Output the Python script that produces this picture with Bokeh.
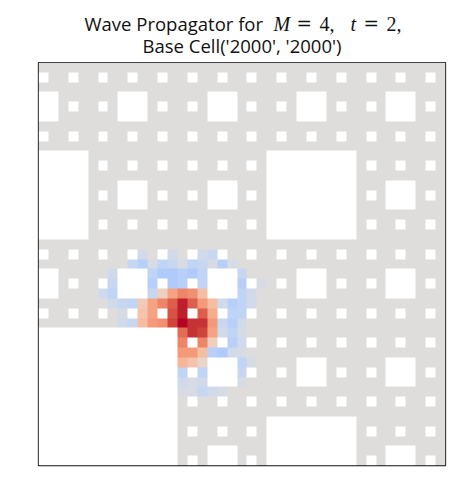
import numpy as np
from bokeh.plotting import figure
from bokeh.layouts import column
from bokeh.models import LinearColorMapper, Range1d
from bokeh.core.properties import value
from bokeh.embed import file_html
from bokeh.resources import INLINE

# ---------------- data ----------------
M = 4                      # carpet level -> 3**M cells per side
t_step = 2
base_cell = ("2000", "2000")
view_row_range = (0, 41)   # carpet rows shown (top to bottom)
view_col_range = (40, 81)  # carpet cols shown (left to right)

# wave propagator values (view rows 19.., view cols 5..23)
wave_row_start = 19
wave_col_start = 5
wave_r19 = [0, 0, 0, 0, 0, -0.1, 0, 0, -0.1, 0, 0, -0.1, -0.15, 0, 0, 0, 0, 0, 0]
wave_r20 = [0, 0, 0, 0, -0.15, -0.25, -0.05, -0.2, -0.15, -0.05, -0.2, -0.15, -0.05, -0.25, -0.05, 0, 0, 0, 0]
wave_r21 = [0, 0, -0.1, 0, 0, 0, -0.2, -0.3, -0.3, -0.25, -0.3, -0.2, 0, 0, 0, -0.15, 0, 0, 0]
wave_r22 = [0, -0.1, -0.15, 0, 0, 0, -0.25, 0, -0.3, -0.25, 0, -0.2, 0, 0, 0, -0.25, 0, -0.05, 0]
wave_r23 = [0, -0.1, -0.2, 0, 0, 0, -0.15, 0.15, 0.45, 0.6, 0.55, 0.3, 0, 0, 0, -0.2, -0.1, 0, 0]
wave_r24 = [0, 0, -0.1, -0.15, -0.2, 0.2, 0.45, 0.6, 0.75, 0.95, 0.75, 0.5, 0.3, -0.1, -0.25, -0.2, -0.1, 0, 0]
wave_r25 = [0, 0, 0, -0.05, 0, 0.25, 0.45, 0, 0.8, 0.95, 0, 0.75, 0.4, 0, -0.2, -0.2, 0, 0, 0]
wave_r26 = [0, 0, 0, -0.1, -0.15, 0.3, 0.5, 0.55, 0.85, 1.0, 0.9, 0.9, 0.5, -0.15, -0.25, -0.1, 0, 0, 0]
wave_r27 = [0, 0, 0, 0, 0, 0, 0, 0, 0, 0.7, 0.9, 0.85, 0.45, -0.1, -0.2, -0.05, 0, 0, 0]
wave_r28 = [0, 0, 0, 0, 0, 0, 0, 0, 0, 0.6, 0, 0.6, 0.15, -0.25, -0.25, -0.1, 0, 0, 0]
wave_r29 = [0, 0, 0, 0, 0, 0, 0, 0, 0, 0.5, 0.5, 0.3, -0.25, -0.3, -0.1, -0.05, 0, 0, 0]
wave_r30 = [0, 0, 0, 0, 0, 0, 0, 0, 0, 0.35, 0.25, 0.1, 0, 0, 0, -0.2, -0.05, 0, 0]
wave_r31 = [0, 0, 0, 0, 0, 0, 0, 0, 0, -0.2, 0, -0.2, 0, 0, 0, -0.15, 0, 0, 0]
wave_r32 = [0, 0, 0, 0, 0, 0, 0, 0, 0, -0.1, -0.05, -0.1, 0, 0, 0, -0.05, 0, 0, 0]
wave_r33 = [0, 0, 0, 0, 0, 0, 0, 0, 0, -0.05, -0.05, -0.15, -0.1, -0.05, 0, 0, 0, 0, 0]
wave_rows = [wave_r19, wave_r20, wave_r21, wave_r22, wave_r23, wave_r24, wave_r25,
             wave_r26, wave_r27, wave_r28, wave_r29, wave_r30, wave_r31, wave_r32, wave_r33]

# title pieces: line 1 mixes text and math
title_line1 = ["Wave Propagator for", "M", "=", "4,", "t", "=", "2,"]
title_line1_kind = ["text", "var", "rel", "num", "var", "rel", "num"]
title_line2 = "Base Cell('%s', '%s')" % base_cell

# coolwarm colormap anchor table (Moreland)
coolwarm_table = [
    (59, 76, 192), (68, 90, 204), (77, 104, 215), (87, 117, 225), (98, 130, 234),
    (108, 142, 241), (119, 154, 247), (130, 165, 251), (141, 176, 254), (152, 185, 255),
    (163, 194, 255), (174, 201, 253), (184, 208, 249), (194, 213, 244), (204, 217, 238),
    (213, 219, 230), (221, 221, 221), (229, 216, 209), (236, 211, 197), (241, 204, 185),
    (245, 196, 173), (247, 187, 160), (247, 177, 148), (247, 166, 135), (244, 154, 123),
    (241, 141, 111), (236, 127, 99), (229, 112, 88), (222, 96, 77), (213, 80, 66),
    (203, 62, 56), (192, 40, 47), (180, 4, 38)]


def make_palette(table, n=256):
    arr = np.array(table, dtype=float)
    xs = np.linspace(0, 1, len(arr))
    q = np.linspace(0, 1, n)
    cols = []
    for v in q:
        rgb = [int(round(np.interp(v, xs, arr[:, k]))) for k in range(3)]
        cols.append("#%02x%02x%02x" % tuple(rgb))
    return cols


def in_carpet(R, C, level):
    for k in range(level):
        if (R // 3 ** k) % 3 == 1 and (C // 3 ** k) % 3 == 1:
            return False
    return True


nr = view_row_range[1] - view_row_range[0]
nc = view_col_range[1] - view_col_range[0]
grid = np.zeros((nr, nc))
for r in range(nr):
    for c in range(nc):
        if not in_carpet(view_row_range[0] + r, view_col_range[0] + c, M):
            grid[r, c] = np.nan
for i, row in enumerate(wave_rows):
    for j, v in enumerate(row):
        r = wave_row_start + i
        c = wave_col_start + j
        if not np.isnan(grid[r, c]):
            grid[r, c] = v

# ---------------- layout ----------------
LEFT = 38
RIGHT = 18
FRAME_W = 407
FRAME_H = 403
TITLE_H = 62

# title strip (its own small figure so the text sits outside the map frame);
# its x range is in page pixels
tp = figure(frame_width=FRAME_W, frame_height=TITLE_H,
            x_range=Range1d(LEFT, LEFT + FRAME_W), y_range=Range1d(TITLE_H, 0),
            toolbar_location=None, output_backend="svg", title=None,
            min_border_left=LEFT, min_border_right=RIGHT, min_border_top=0, min_border_bottom=0)
tp.axis.visible = False
tp.grid.visible = False
tp.outline_line_color = None
tp.background_fill_color = "white"
tp.border_fill_color = "white"

styles = {
    "text": ("Open Sans", "normal", "18.5px"),
    "var": ("Liberation Serif", "italic", "20px"),
    "rel": ("DejaVu Serif", "normal", "18.5px"),
    "num": ("Liberation Serif", "normal", "20px"),
}
piece_x = [84, 273, 296, 319, 350, 363, 386]
for txt, kind, px in zip(title_line1, title_line1_kind, piece_x):
    font, style, size = styles[kind]
    tp.text(x=[px], y=[23], text=[txt], text_font=value(font), text_font_style=style,
            text_font_size=size, text_color="#111111", text_align="left",
            text_baseline="middle")
tp.text(x=[LEFT + FRAME_W / 2], y=[45], text=[title_line2],
        text_font=value("Open Sans"), text_font_size="18.5px", text_color="#111111",
        text_align="center", text_baseline="middle")

mapper = LinearColorMapper(palette=make_palette(coolwarm_table), low=-1, high=1, nan_color="white")

p = figure(frame_width=FRAME_W, frame_height=FRAME_H,
           x_range=Range1d(view_col_range[0], view_col_range[1]),
           y_range=Range1d(0, nr),
           toolbar_location=None, output_backend="svg", title=None,
           min_border_left=LEFT, min_border_right=RIGHT,
           min_border_top=0, min_border_bottom=10)
p.image(image=[np.flipud(grid)], x=view_col_range[0], y=0, dw=nc, dh=nr, color_mapper=mapper)
p.axis.visible = False
p.grid.visible = False
p.outline_line_color = "#111111"
p.outline_line_width = 1.3
p.background_fill_color = "white"
p.border_fill_color = "white"

layout = column(tp, p, spacing=0)
open("out.html", "w").write(file_html(layout, INLINE))
